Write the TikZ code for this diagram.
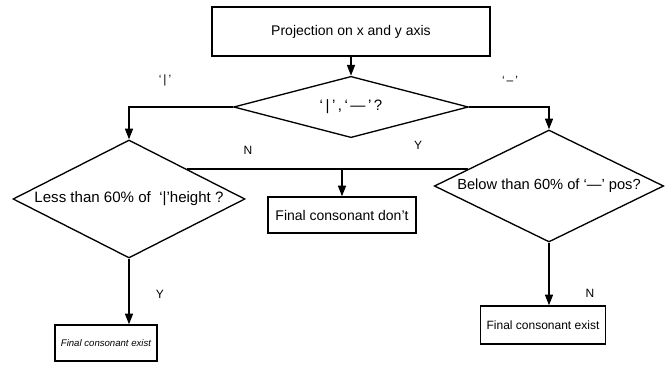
\documentclass[tikz,border=0pt]{standalone}
\usepackage{fontspec}
\setmainfont{Liberation Sans}
\usetikzlibrary{shapes.geometric, arrows.meta, positioning, calc}
\tikzset{
    box/.style={rectangle, draw, line width=1pt, inner sep=2pt, text centered, font=\fontsize{10.5}{12}\selectfont},
    decision/.style={diamond, draw, line width=1pt, inner sep=0pt, font=\fontsize{11.3}{13}\selectfont},
    tag/.style={inner sep=1pt, font=\fontsize{9}{10}\selectfont},
    arrow/.style={line width=1pt,-{Triangle[length=8pt,width=6pt]}}
}
\newcommand{\zerowide}[1]{\makebox[0pt]{#1}}

\begin{document}
\begin{tikzpicture}[x=0.75pt, y=-0.75pt]
    \useasboundingbox (0,0) rectangle (672,366);
    \node (proj) [box, minimum width=208.5pt, minimum height=36.75pt] at (351,31.5) {Projection on x and y axis};
    \node (split) [decision, minimum width=176pt, minimum height=46pt, below=14.25pt of proj] {\zerowide{‘\,|\,’\,,\,‘\,—\,’\,?}};
    \node (barheight) [decision, minimum width=174pt, minimum height=88.5pt] at (129,199) {\zerowide{Less than 60\% of \ ‘|’height ?}};
    \node (dashpos) [decision, minimum width=172pt, minimum height=84pt, font=\fontsize{11}{13}\selectfont] at (549,186) {\zerowide{Below than 60\% of ‘—’ pos?}};
    \node (dont) [box, minimum width=111pt, minimum height=27pt] at (342,215) {Final consonant don’t};
    \node (exist1) [box, minimum width=76.5pt, minimum height=27pt, font=\fontsize{7.2}{8}\selectfont\itshape] at (106,343) {Final consonant exist};
    \node (exist2) [box, minimum width=94pt, minimum height=28.5pt, font=\fontsize{9}{10}\selectfont] at (543,325) {Final consonant exist};

    % branch labels
    \node (bartag) [tag] at (165,80) {‘\,|\,’};
    \node (dashtag) [tag] at (510,80) {‘\,–\,’};
    \node (ntag) [tag] at (248,150) {N};
    \node (ytag) [tag] at (418,145) {Y};
    \node (ytag2) [tag] at (160,294) {Y};
    \node (ntag2) [tag] at (590,293) {N};

    \draw [arrow] (proj) -- (split);
    \draw [arrow] (split.west) -| (barheight.north);
    \draw [arrow] (split.east) -| (dashpos.north);
    \coordinate (njoin) at (barheight.north east);
    \draw [line width=1pt] (njoin) -- (njoin -| dashpos.168);
    \draw [arrow] (dont.north |- njoin) -- (dont.north);
    \draw [arrow] (barheight.south) -- (barheight.south |- exist1.north);
    \draw [arrow] (dashpos.south) -- (dashpos.south |- exist2.north);
\end{tikzpicture}
\end{document}
